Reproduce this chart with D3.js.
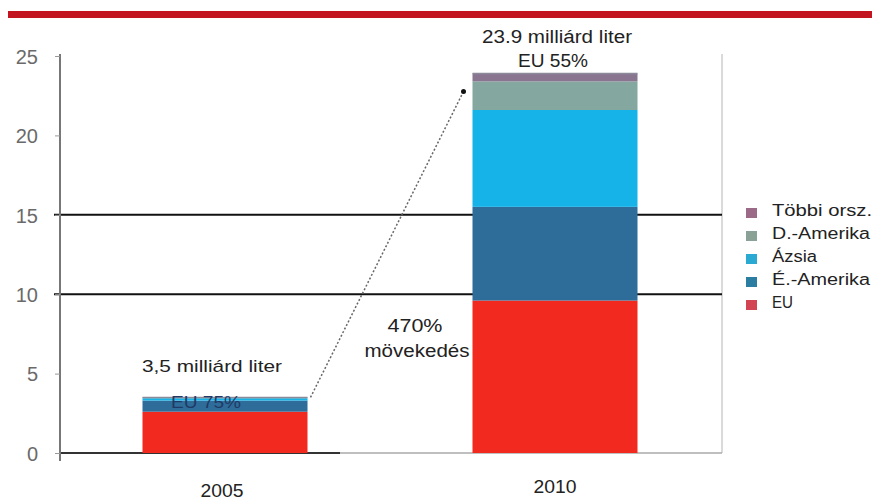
<!DOCTYPE html>
<html>
<head>
<meta charset="utf-8">
<script src="https://cdn.jsdelivr.net/npm/d3@7"></script>
<style>
  html, body { margin: 0; padding: 0; background: #fff; }
  svg { display: block; }
  text { font-family: "Liberation Sans", Arial, Helvetica, sans-serif; }
</style>
</head>
<body>
<svg id="chart" width="872" height="500"></svg>
<script>
// Bioethanol production, billion litres, by region
const years = ["2005", "2010"];
const regions = ["EU", "É.-Amerika", "Ázsia", "D.-Amerika", "Többi orsz."];
const euValues = [2.6, 9.6];
const northAmericaValues = [0.7, 5.9];
const asiaValues = [0.15, 6.1];
const southAmericaValues = [0.03, 1.8];
const otherValues = [0.02, 0.5];
const totals = [3.5, 23.9];
const totalLabels = ["3,5 milliárd liter", "23.9 milliárd liter"];
const euShareLabels = ["EU 75%", "EU 55%"];
const growthLabel = ["470%", "mövekedés"];
const yTicks = [0, 5, 10, 15, 20, 25];
const gridValues = [10, 15];

const barColors = ["#f2291e", "#2e6d9a", "#16b3e9", "#84a8a0", "#8a7590"];
const legendColors = ["#d24452", "#2b7ea2", "#2aaad2", "#8aa198", "#9a6a86"];

const rows = years.map((yr, i) => ({
  year: yr,
  "EU": euValues[i],
  "É.-Amerika": northAmericaValues[i],
  "Ázsia": asiaValues[i],
  "D.-Amerika": southAmericaValues[i],
  "Többi orsz.": otherValues[i]
}));

const svg = d3.select("#chart");

// stretched text helper: fixed rendered width via textLength
function label(g, txt, x, y, size, width, opts = {}) {
  return g.append("text")
    .attr("x", x).attr("y", y)
    .attr("text-anchor", opts.anchor || "middle")
    .attr("font-size", size)
    .attr("fill", opts.fill || "#222")
    .attr("textLength", width)
    .attr("lengthAdjust", "spacingAndGlyphs")
    .text(txt);
}

// header band
svg.append("rect").attr("x", 8).attr("y", 11).attr("width", 864).attr("height", 7)
  .attr("fill", "#c2151f");

const x = d3.scaleBand().domain(years).range([60, 720]).paddingInner(0.5).paddingOuter(0.25);
const y = d3.scaleLinear().domain([0, 25]).range([453, 56]);
const plotRight = 722;

// plot area right edge
svg.append("line").attr("x1", plotRight).attr("x2", plotRight)
  .attr("y1", y(25) - 2).attr("y2", y(0))
  .attr("stroke", "#b5b5b5").attr("stroke-width", 1);

// horizontal reference lines
svg.append("g").selectAll("line").data(gridValues).join("line")
  .attr("x1", 54).attr("x2", plotRight)
  .attr("y1", d => y(d)).attr("y2", d => y(d))
  .attr("stroke", "#111").attr("stroke-width", 2);

// baseline
svg.append("line").attr("x1", 60).attr("x2", plotRight).attr("y1", y(0)).attr("y2", y(0))
  .attr("stroke", "#aaa").attr("stroke-width", 1.5);
svg.append("line").attr("x1", 60).attr("x2", 340).attr("y1", y(0)).attr("y2", y(0))
  .attr("stroke", "#333").attr("stroke-width", 2);

// y axis
const yAxis = svg.append("g").attr("transform", "translate(60,0)")
  .call(d3.axisLeft(y).tickValues(yTicks).tickSize(5).tickPadding(17));
yAxis.select(".domain").attr("stroke", "#777").attr("stroke-width", 2)
  .attr("d", `M0,${y(25) - 2}V${y(0) + 8}`);
yAxis.selectAll(".tick line").attr("stroke", "#999");
yAxis.selectAll(".tick text").attr("font-size", 20).attr("fill", "#6a6a6a")
  .attr("dy", "0.36em");

// stacked bars
const stack = d3.stack().keys(regions)(rows);
const color = d3.scaleOrdinal().domain(regions).range(barColors);
svg.append("g").selectAll("g").data(stack).join("g")
  .attr("fill", d => color(d.key))
  .selectAll("rect").data(d => d).join("rect")
  .attr("x", d => x(d.data.year))
  .attr("width", x.bandwidth())
  .attr("y", d => y(d[1]))
  .attr("height", d => Math.max(0, y(d[0]) - y(d[1])));

// thin grey cap on each bar
svg.append("g").selectAll("line").data(years).join("line")
  .attr("x1", d => x(d)).attr("x2", d => x(d) + x.bandwidth())
  .attr("y1", (d, i) => y(totals[i])).attr("y2", (d, i) => y(totals[i]))
  .attr("stroke", "#8a8a9a").attr("stroke-width", 1.5);

// growth connector
const x1 = x(years[0]) + x.bandwidth() + 3, y1 = y(totals[0]);
const x2 = x(years[1]) - 9, y2 = y(totals[1]) + 18;
svg.append("line").attr("x1", x1).attr("y1", y1).attr("x2", x2).attr("y2", y2)
  .attr("stroke", "#666").attr("stroke-width", 1.5).attr("stroke-dasharray", "2,2");
svg.append("circle").attr("cx", x2).attr("cy", y2).attr("r", 2.5).attr("fill", "#111");

// annotations
const cx = i => x(years[i]) + x.bandwidth() / 2;
const ann = svg.append("g");
label(ann, totalLabels[1], cx(1) + 2, 43, 18, 150);
label(ann, euShareLabels[1], cx(1) - 2, y(totals[1]) - 6, 18, 70);
label(ann, totalLabels[0], cx(0) - 13, 372, 17, 140);
label(ann, euShareLabels[0], cx(0) - 19, 408, 16, 70, { fill: "#1f3a66" });
label(ann, growthLabel[0], 415, 332, 18, 55);
label(ann, growthLabel[1], 417, 357, 18, 105);

// category labels
label(ann, years[0], cx(0) - 3, 497, 19, 43);
label(ann, years[1], cx(1), 493, 19, 43);

// legend, top entry = last series
const legendWidths = [21, 98, 45, 98, 100];
const legendOrder = regions.map((r, i) => ({ name: r, color: legendColors[i], w: legendWidths[i] })).reverse();
const lg = svg.append("g").attr("transform", "translate(746,203)");
legendOrder.forEach((d, i) => {
  const row = lg.append("g").attr("transform", `translate(0,${i * 23})`);
  row.append("rect").attr("x", 0).attr("y", 5).attr("width", 11).attr("height", 10).attr("fill", d.color);
  label(row, d.name, 26, 13, 16, d.w, { anchor: "start" });
});
</script>
</body>
</html>
